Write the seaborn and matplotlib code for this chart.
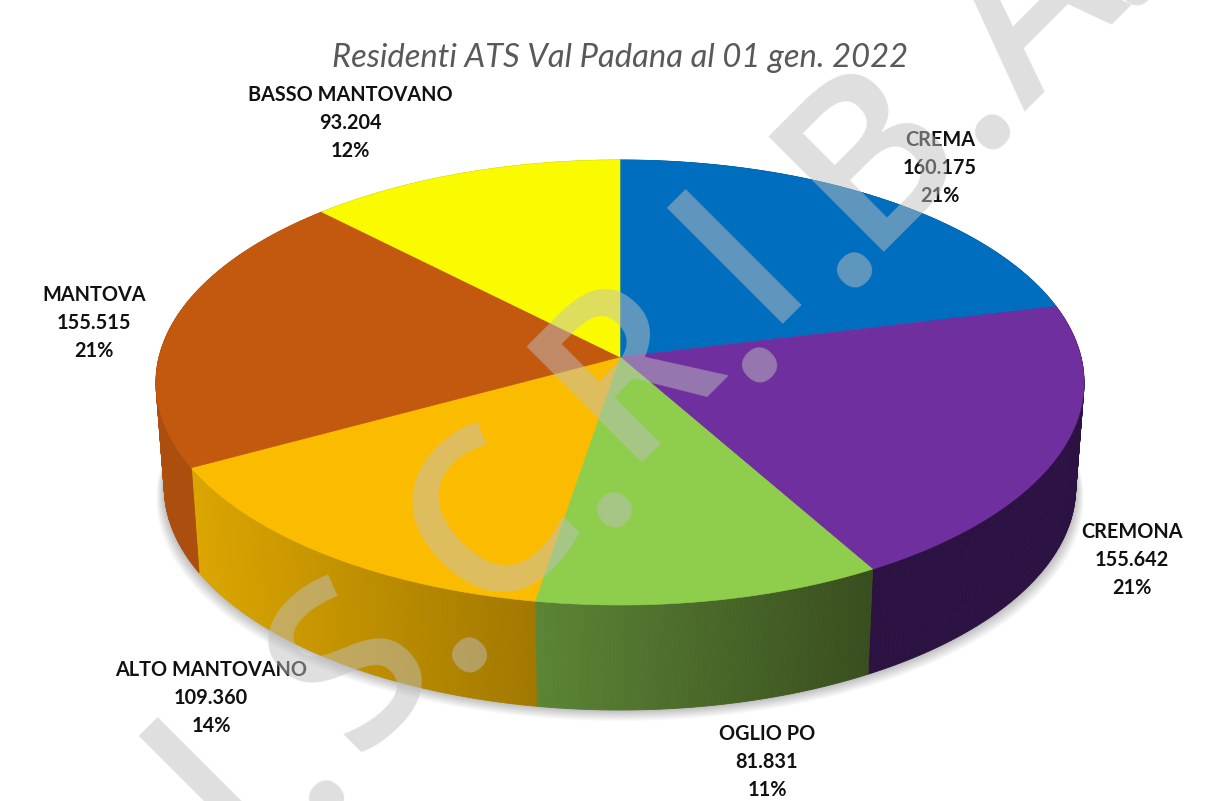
import numpy as np
import matplotlib
matplotlib.use("Agg")
import matplotlib.pyplot as plt
import matplotlib.colors as mcolors
import seaborn as sns

names = ["CREMA", "CREMONA", "OGLIO PO", "ALTO MANTOVANO", "MANTOVA", "BASSO MANTOVANO"]
residents = [160175, 155642, 81831, 109360, 155515, 93204]
top_colors = ["#006EBE", "#6F2F9E", "#8FCE4D", "#FBBC00", "#C2590F", "#FBFB00"]
wall_left = ["#00508A", "#2B1242", "#5C8535", "#DCA600", "#AB4E0E", "#B8B800"]
wall_right = ["#00508A", "#2B1242", "#394E1E", "#A27800", "#AB4E0E", "#B8B800"]
label_x = [940, 1132, 767, 211, 94, 350]
label_y = [168, 560, 762, 698, 323, 123]
title = "Residenti ATS Val Padana al 01 gen. 2022"
mark_chars = ["P", "I", ".", "S", ".", "C", ".", "R", ".", "I", ".", "B", ".", "A", "."]
mark_x = [150, 258, 332, 400, 475, 537, 620, 672, 765, 786, 860, 916, 998, 1078, 1142]
mark_line = [1090, 1085, 1130, 1112, 1130, 1105, 1130, 1082, 1130, 1085, 1130, 1115, 1130, 1135, 1130]

sns.set_theme(style="white")
plt.rcParams['font.family'] = ['Lato', 'DejaVu Sans']

fig = plt.figure(figsize=(12.17, 8.01), dpi=100)
ax = fig.add_axes([0, 0, 1, 1])
ax.set_xlim(0, 1217)
ax.set_ylim(801, 0)
sns.despine(ax=ax, left=True, bottom=True)
ax.set_xticks([])
ax.set_yticks([])

# tilted disc, the far side is squeezed a bit
cx, cy, rx, ry, k = 620, 357, 461, 219.6, 0.1146
depth, shrink = 105, 0.982


def disc(theta):
    u, v = np.sin(theta), np.cos(theta)
    d = 1 + k * v
    return cx + rx * u / d, cy - ry * v / d


def base(theta):
    x, y = disc(theta)
    return cx + shrink * (x - cx), y + depth


edges = np.cumsum([0] + residents) / sum(residents) * 2 * np.pi

# soft shadow under the disc
all_t = np.linspace(0, 2 * np.pi, 361)
for grow in range(16, 0, -1):
    sx, sy = base(all_t)
    ax.fill(cx + (sx - cx) * (1 + grow / 900), sy + grow * 0.7, color="black", alpha=0.016, lw=0, zorder=1)

# side walls, split up so the shading can change along x
for i in range(len(names)):
    ts = np.linspace(edges[i], edges[i + 1], 120)
    x1, y1 = disc(ts)
    x2, y2 = base(ts)
    c0 = np.array(mcolors.to_rgb(wall_left[i]))
    c1 = np.array(mcolors.to_rgb(wall_right[i]))
    lo, hi = x1.min(), x1.max()
    for j in range(len(ts) - 1):
        f = (x1[j] - lo) / (hi - lo)
        col = c0 + (c1 - c0) * f
        ax.fill([x1[j], x1[j + 1], x2[j + 1], x2[j]], [y1[j], y1[j + 1], y2[j + 1], y2[j]],
                color=col, lw=0.6, zorder=2)

# top face
for i in range(len(names)):
    ts = np.linspace(edges[i], edges[i + 1], 150)
    x1, y1 = disc(ts)
    ax.fill(np.r_[cx, x1], np.r_[cy, y1], color=top_colors[i], lw=0.4, zorder=3)

ax.text(620, 58, title, ha="center", va="center", fontsize=23.6, style="italic", color="#595959", zorder=4)

total = sum(residents)
for i in range(len(names)):
    val = f"{residents[i]:,}".replace(",", ".")
    pct = round(residents[i] / total * 100)
    ax.text(label_x[i], label_y[i], f"{names[i]}\n{val}\n{pct}%", ha="center", va="center",
            fontsize=14.3, fontweight="bold", color="#111111", linespacing=1.52, zorder=4)

# big diagonal watermark on top of everything
for ch, mx, ml in zip(mark_chars, mark_x, mark_line):
    ax.text(mx, ml - mx, ch, rotation=45, rotation_mode="anchor", ha="center", va="baseline",
            fontsize=165, fontweight="semibold", family="Open Sans", color="#BFBFBF", alpha=0.5,
            zorder=5, clip_on=True)

fig.savefig("out.png", dpi=100)
